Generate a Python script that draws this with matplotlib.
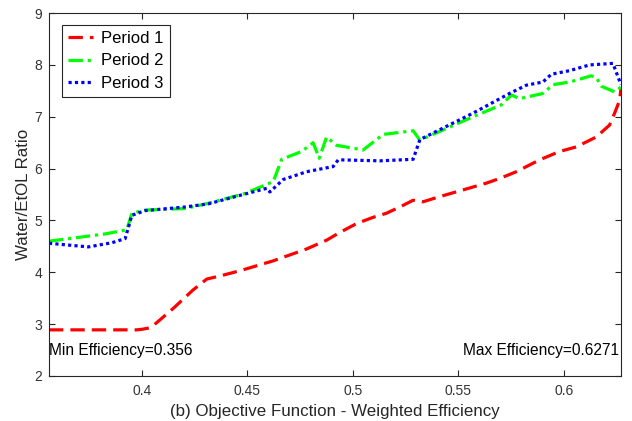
import matplotlib
matplotlib.use("Agg")
import matplotlib.pyplot as plt

plt.rcParams['font.family'] = ['Liberation Sans', 'DejaVu Sans']

p1_x = [0.356, 0.3976, 0.400, 0.4039, 0.4071, 0.4148, 0.4243, 0.4308, 0.4371, 0.4465,
        0.4622, 0.4781, 0.4876, 0.4939, 0.5018, 0.5096, 0.5160, 0.5223, 0.5286, 0.5333,
        0.5412, 0.5523, 0.5633, 0.5696, 0.5775, 0.5886, 0.5980, 0.6060, 0.6154, 0.6217,
        0.6241, 0.6265, 0.6271]
p1_y = [2.89, 2.89, 2.90, 2.93, 3.03, 3.30, 3.66, 3.87, 3.93, 4.03,
        4.22, 4.45, 4.62, 4.77, 4.94, 5.06, 5.14, 5.26, 5.39, 5.36,
        5.46, 5.59, 5.72, 5.81, 5.94, 6.17, 6.33, 6.42, 6.61, 6.84,
        7.07, 7.32, 7.55]

p2_x = [0.356, 0.3826, 0.3929, 0.3953, 0.4016, 0.4205, 0.4315, 0.4489, 0.4623, 0.4663,
        0.4757, 0.4812, 0.4841, 0.4876, 0.4923, 0.5049, 0.5144, 0.5286, 0.5318, 0.5570,
        0.5704, 0.5752, 0.5791, 0.5901, 0.5949, 0.6028, 0.6130, 0.6154, 0.6178, 0.6241,
        0.6271]
p2_y = [4.60, 4.74, 4.82, 5.14, 5.20, 5.23, 5.33, 5.52, 5.75, 6.18,
        6.33, 6.50, 6.20, 6.61, 6.45, 6.36, 6.66, 6.73, 6.55, 7.00,
        7.23, 7.42, 7.35, 7.45, 7.62, 7.67, 7.79, 7.76, 7.59, 7.48,
        7.57]

p3_x = [0.356, 0.3747, 0.3858, 0.3921, 0.3953, 0.4016, 0.4205, 0.4315, 0.4489, 0.4592,
        0.4607, 0.4670, 0.4781, 0.4907, 0.4931, 0.5128, 0.5286, 0.5318, 0.5570, 0.5743,
        0.5823, 0.5901, 0.5941, 0.6028, 0.6122, 0.6233, 0.6271]
p3_y = [4.56, 4.49, 4.57, 4.65, 5.10, 5.19, 5.26, 5.32, 5.51, 5.62,
        5.55, 5.79, 5.94, 6.04, 6.17, 6.15, 6.18, 6.56, 7.07, 7.45,
        7.61, 7.67, 7.82, 7.89, 8.00, 8.03, 7.62]

labels = ['Period 1', 'Period 2', 'Period 3']
x_ticks = [0.4, 0.45, 0.5, 0.55, 0.6]
x_tick_labels = ['0.4', '0.45', '0.5', '0.55', '0.6']
y_ticks = [2, 3, 4, 5, 6, 7, 8, 9]
x_min, x_max = 0.356, 0.6271

fig = plt.figure(figsize=(6.32, 4.21), dpi=100)
ax = fig.add_axes([0.0775, 0.1069, 0.905, 0.862])

ax.plot(p1_x, p1_y, color='#ff0000', linestyle=(0, (4.5, 2.2)), linewidth=2.3, label=labels[0])
ax.plot(p2_x, p2_y, color='#00ff00', linestyle=(0, (4.5, 1.5, 1, 1.5)), linewidth=2.3, label=labels[1])
ax.plot(p3_x, p3_y, color='#0000ff', linestyle=(0, (1, 1)), linewidth=2.3, label=labels[2])

ax.set_xlim(x_min, x_max)
ax.set_ylim(2, 9)
ax.set_xticks(x_ticks)
ax.set_xticklabels(x_tick_labels)
ax.set_yticks(y_ticks)
ax.tick_params(direction='in', top=True, right=True, length=4, width=0.8,
               colors='#262626', labelsize=10, labelcolor='#333333')
ax.tick_params(axis='x', pad=6)
ax.tick_params(axis='y', pad=5)
for s in ax.spines.values():
    s.set_color('#262626')
    s.set_linewidth(0.8)

ax.set_xlabel('(b) Objective Function - Weighted Efficiency', fontsize=12.2, color='#262626', labelpad=4)
ax.set_ylabel('Water/EtOL Ratio', fontsize=12.2, color='#262626', labelpad=2)

ax.text(0.3562, 2.49, 'Min Efficiency=0.356', fontsize=11.2, va='center', ha='left', color='black')
ax.text(0.6262, 2.49, 'Max Efficiency=0.6271', fontsize=11.2, va='center', ha='right', color='black')

leg = ax.legend(loc='upper left', bbox_to_anchor=(0.023, 0.967), fontsize=12,
                fancybox=False, edgecolor='#262626', framealpha=1,
                handlelength=1.5, handletextpad=0.5, borderpad=0.35, labelspacing=0.45,
                borderaxespad=0)
leg.get_frame().set_linewidth(0.8)

fig.savefig('out.png', dpi=100)
